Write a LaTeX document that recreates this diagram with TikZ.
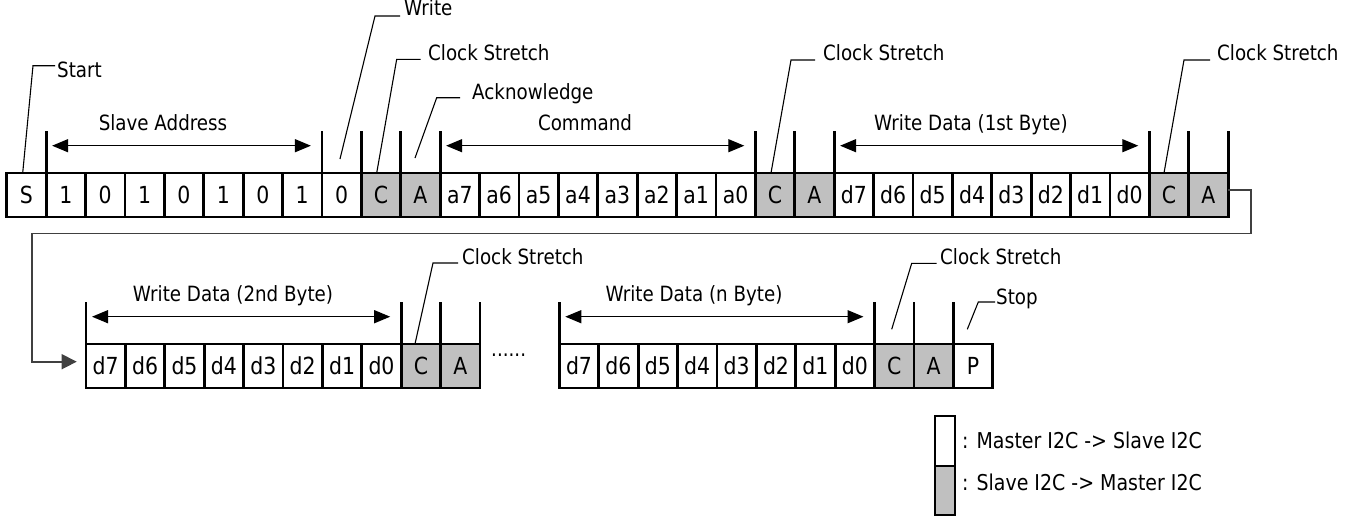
\documentclass[tikz,border=0pt]{standalone}
\usepackage{fontspec}
\setmainfont{DejaVu Sans}[FakeStretch=0.87]
\usetikzlibrary{arrows.meta,calc}
\definecolor{cgray}{RGB}{192,192,192}
\begin{document}
\begin{tikzpicture}[x=1pt,y=-1pt, font=\fontsize{21}{25}\selectfont,
  cell/.style={draw, line width=2.8pt, minimum width=39.4pt, minimum height=44pt, inner sep=0pt, outer sep=0pt, text height=17pt, text depth=0pt, font=\fontsize{23.5}{27}\selectfont},
  tickline/.style={line width=2.8pt},
  dim/.style={line width=1.3pt, {Triangle[length=16pt,width=13pt]}-{Triangle[length=16pt,width=13pt]}},
  leader/.style={line width=1.1pt},
  lbl/.style={inner sep=0pt, anchor=base west},
  ttl/.style={inner sep=0pt, anchor=base},
  ret/.style={line width=1.6pt, draw=black!75, -{Triangle[length=15pt,width=15pt]}}]
\useasboundingbox (0,0) rectangle (1355,517);

% ---------- row 1 ----------
\foreach \t/\f [count=\i] in {S/white,1/white,0/white,1/white,0/white,1/white,0/white,1/white,0/white,C/cgray,A/cgray,
  a7/white,a6/white,a5/white,a4/white,a3/white,a2/white,a1/white,a0/white,C/cgray,A/cgray,
  d7/white,d6/white,d5/white,d4/white,d3/white,d2/white,d1/white,d0/white,C/cgray,A/cgray}
  \node[cell, fill=\f] (r1c\i) at ({6.7+39.4*(\i-0.5)},195) {\t};
\foreach \i in {1,8,9,10,11,19,20,21,29,30,31}
  \draw[tickline] (r1c\i.north east) -- ++(0,-42);
\draw[dim] ($(r1c1.north east)+(6,-27.3)$) -- ($(r1c8.north east)+(-11,-27.3)$);
\draw[dim] ($(r1c11.north east)+(6,-27.3)$) -- ($(r1c19.north east)+(-11,-27.3)$);
\draw[dim] ($(r1c21.north east)+(6,-27.3)$) -- ($(r1c29.north east)+(-11,-27.3)$);
\node[ttl] (tSA) at (163,130) {Slave Address};
\node[ttl] (tCmd) at (585,130) {Command};
\node[ttl] (tWD1) at (971,130) {Write Data (1st Byte)};

\node[lbl] (lStart) at (57,77.3) {Start};
\draw[leader] ([xshift=-3.7pt]r1c1.north) -- (33,65.7) -- (55,65.7);
\node[lbl] (lWrite) at (404,15.5) {Write};
\draw[leader] ([shift={(-1.6,-14)}]r1c9.north) -- (375,16) -- (400,16);
\node[lbl] (lCS1) at (428,60) {Clock Stretch};
\draw[leader] ([xshift=-4.3pt]r1c10.north) -- (396.7,59.3) -- (420.7,59.3);
\node[lbl] (lAck) at (472,99.3) {Acknowledge};
\draw[leader] ([shift={(-5.4,-15)}]r1c11.north) -- (436.7,97.7) -- (460,97.7);
\node[lbl] (lCS2) at (823,60) {Clock Stretch};
\draw[leader] ([xshift=-4pt]r1c20.north) -- (791,60) -- (815,60);
\node[lbl] (lCS3) at (1217,60) {Clock Stretch};
\draw[leader] ([xshift=-5pt]r1c30.north) -- (1184,60) -- (1210,60);

% ---------- row 2, first group ----------
\foreach \t/\f [count=\i] in {d7/white,d6/white,d5/white,d4/white,d3/white,d2/white,d1/white,d0/white,C/cgray,A/cgray}
  \node[cell, fill=\f] (r2a\i) at ({86+39.4*(\i-0.5)},366) {\t};
\draw[tickline] (r2a1.north west) -- ++(0,-42);
\foreach \i in {8,9,10}
  \draw[tickline] (r2a\i.north east) -- ++(0,-42);
\draw[dim] ($(r2a1.north west)+(6,-27.3)$) -- ($(r2a8.north east)+(-11,-27.3)$);
\node[ttl] (tWD2) at (233,301) {Write Data (2nd Byte)};
\node[lbl] (lCS4) at (462,264) {Clock Stretch};
\draw[leader] ([xshift=-5.9pt]r2a9.north) -- (433,263) -- (458,263);

\node[lbl] (dots) at (491,356) {......};

% ---------- row 2, second group ----------
\foreach \t/\f [count=\i] in {d7/white,d6/white,d5/white,d4/white,d3/white,d2/white,d1/white,d0/white,C/cgray,A/cgray,P/white}
  \node[cell, fill=\f] (r2b\i) at ({559.3+39.4*(\i-0.5)},366) {\t};
\draw[tickline] (r2b1.north west) -- ++(0,-42);
\foreach \i in {8,9,10}
  \draw[tickline] (r2b\i.north east) -- ++(0,-42);
\draw[dim] ($(r2b1.north west)+(6,-27.3)$) -- ($(r2b8.north east)+(-11,-27.3)$);
\node[ttl] (tWDn) at (694,301) {Write Data (n Byte)};
\node[lbl] (lCS5) at (940,264) {Clock Stretch};
\draw[leader] ([shift={(-2.5,-14.7)}]r2b9.north) -- (911.7,263.3) -- (936.7,263.3);
\node[lbl] (lStop) at (996,304) {Stop};
\draw[leader] ([shift={(-5.7,-14.7)}]r2b11.north) -- (978.3,302) -- (995,302);

% ---------- return connector ----------
\draw[ret] ([yshift=5pt]r1c31.east) -- (1251,190) -- (1251,233.3) -- (31.7,233.3) -- (31.7,361.7) -- ([xshift=-9.3pt,yshift=4.3pt]r2a1.west);

% ---------- legend ----------
\node[cell, minimum width=20pt, minimum height=50pt, fill=white, line width=2.2pt] (legW) at (945,441) {};
\node[cell, minimum width=20pt, minimum height=49pt, fill=cgray, line width=2.2pt] (legG) at (945,490.5) {};
\node[lbl, font=\fontsize{21.8}{26}\selectfont] (legWt) at (962,448.3) {: Master I2C -> Slave I2C};
\node[lbl, font=\fontsize{21.8}{26}\selectfont] (legGt) at (962,490) {: Slave I2C -> Master I2C};
\end{tikzpicture}
\end{document}
